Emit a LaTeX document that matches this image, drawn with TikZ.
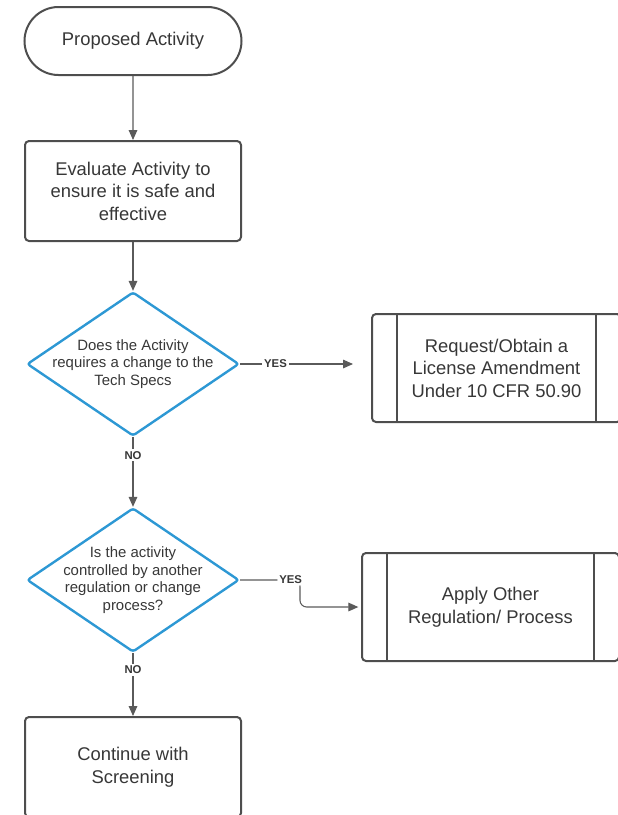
\documentclass[tikz,border=0pt]{standalone}
\usepackage{fontspec}
\setmainfont{Liberation Sans}
\usetikzlibrary{shapes.geometric, shapes.misc, arrows.meta, positioning}
\definecolor{boxgray}{RGB}{78,78,78}
\definecolor{linegray}{RGB}{90,90,90}
\definecolor{txtgray}{RGB}{55,55,55}
\definecolor{decblue}{RGB}{45,152,212}

\begin{document}
\begin{tikzpicture}[
    x=0.75pt, y=-0.75pt,
    % Node styles
    terminal/.style={rounded rectangle, draw=boxgray, line width=1.5pt, minimum width=162.75pt, minimum height=51pt, inner sep=0pt, align=center, text=txtgray, font=\fontsize{13.8}{16.9}\selectfont},
    process/.style={rectangle, draw=boxgray, line width=1.5pt, rounded corners=3pt, minimum width=162pt, minimum height=75pt, inner sep=0pt, align=center, text=txtgray, font=\fontsize{13.8}{16.9}\selectfont},
    predef/.style={process, minimum height=81pt, path picture={
        \draw[boxgray, line width=1.5pt] ([xshift=18.75pt]path picture bounding box.north west) -- ([xshift=18.75pt]path picture bounding box.south west);
        \draw[boxgray, line width=1.5pt] ([xshift=-18.75pt]path picture bounding box.north east) -- ([xshift=-18.75pt]path picture bounding box.south east);}},
    decision/.style={diamond, draw=decblue, line width=1.8pt, rounded corners=2pt, minimum width=159pt, minimum height=108pt, inner sep=0pt},
    dectext/.style={align=center, text=txtgray, font=\fontsize{11.2}{13.1}\selectfont, inner sep=0pt},
    answer/.style={fill=white, inner sep=1.5pt, text=txtgray, font=\bfseries\fontsize{8.5}{10}\selectfont},
    arrow/.style={-{Triangle[length=7.5pt, width=6.5pt]}, line width=0.8pt, linegray},
]

\useasboundingbox (0,0) rectangle (618,815);
\clip (0,0) rectangle (618,815);

% === Main column ===
\node[terminal] (start) at (133,41) {Proposed Activity};
\node[process] (eval) at (133,191) {Evaluate Activity to\\ensure it is safe and\\effective};

\node[decision] (chg) at (133,364) {};
\node[dectext] (chgtext) at (chg) {Does the Activity\\requires a change to the\\Tech Specs};

\node[decision] (ctrl) at (133,580) {};
\node[dectext] (ctrltext) at (ctrl) {Is the activity\\controlled by another\\regulation or change\\process?};

\node[process] (cont) at (133,767) {Continue with\\Screening};

% === Right: outcomes ===
\node[predef, minimum width=186.75pt] (req) at (496.5,368) {Request/Obtain a\\License Amendment\\Under 10 CFR 50.90};
\node[predef, minimum width=192.75pt] (apply) at (490.5,607) {Apply Other\\Regulation/ Process};

% === Flow arrows ===
\draw[arrow] (start) -- (eval);
\draw[arrow] (eval) -- (chg);
\draw[arrow, shorten >=13.5pt] (chg.east) -- node[answer, pos=0.27] {YES} (chg.east -| req.west);
\draw[arrow] (chg.south) -- node[answer, pos=0.26] {NO} (ctrl.north);
\draw[arrow, rounded corners=5pt, shorten >=2pt] (ctrl.east) -| node[answer, pos=0.5, xshift=-7pt] {YES} ([xshift=-45.75pt]apply.west) -- (apply.west);
\draw[arrow] (ctrl.south) -- node[answer, pos=0.26] {NO} (cont.north);

\end{tikzpicture}
\end{document}
